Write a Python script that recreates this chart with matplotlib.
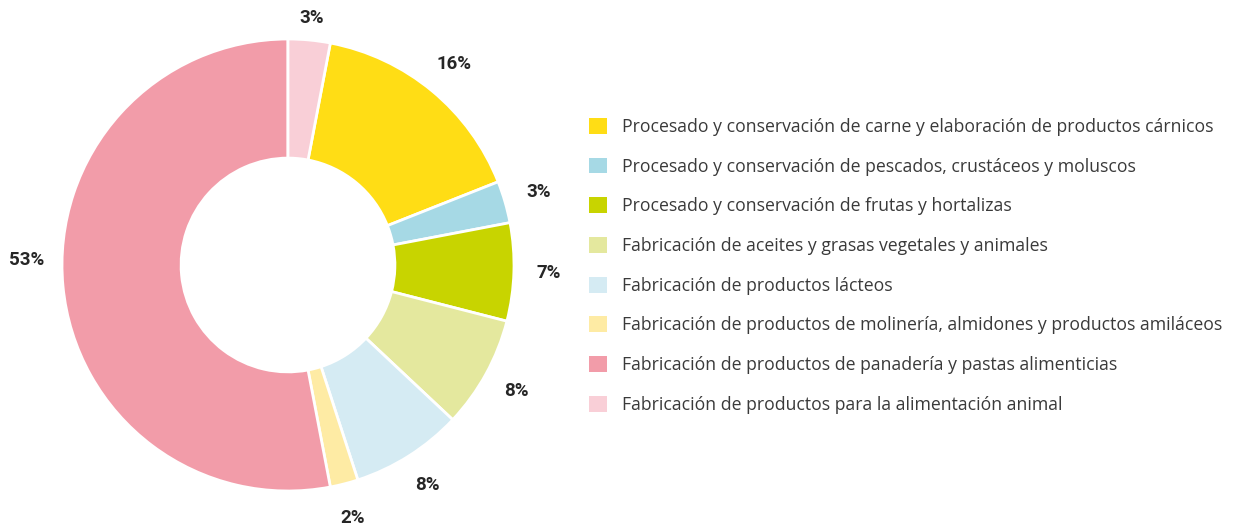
import matplotlib.pyplot as plt
from matplotlib.patches import Patch
import numpy as np

plt.rcParams['font.family'] = ['Open Sans', 'DejaVu Sans']

categories = [
    'Procesado y conservación de carne y elaboración de productos cárnicos',
    'Procesado y conservación de pescados, crustáceos y moluscos',
    'Procesado y conservación de frutas y hortalizas',
    'Fabricación de aceites y grasas vegetales y animales',
    'Fabricación de productos lácteos',
    'Fabricación de productos de molinería, almidones y productos amiláceos',
    'Fabricación de productos de panadería y pastas alimenticias',
    'Fabricación de productos para la alimentación animal',
]
values = [16, 3, 7, 8, 8, 2, 53, 3]
colors = ['#FFDD15', '#A6D9E5', '#C8D400', '#E4E89E',
          '#D5EBF3', '#FEEBA4', '#F29CA9', '#F9CFD7']

# small placement tweaks for the percentage labels (degrees, radius)
label_angle_shift = {6: 6.5}
label_radius = {7: 1.10}

fig = plt.figure(figsize=(12.33, 5.32), dpi=100)
# donut centre ~ (288, 265) px, radius ~226 px
ax = fig.add_axes([(288 - 226) / 1233, (532 - 265 - 226) / 532, 452 / 1233, 452 / 532])

tot = sum(values)
start = 90 - 360 * values[-1] / tot
wedges, _ = ax.pie(values, colors=colors, startangle=start, counterclock=False,
                   radius=1, wedgeprops=dict(width=0.527, edgecolor='white', linewidth=2))

ang = start
for k, v in enumerate(values):
    mid = ang - 360 * v / tot / 2 - label_angle_shift.get(k, 0)
    ang -= 360 * v / tot
    r = label_radius.get(k, 1.155)
    t = np.deg2rad(mid)
    ax.text(r * np.cos(t), r * np.sin(t), f'{v}%', ha='center', va='center',
            fontsize=13.5, fontweight='bold', color='#262626',
            family=['Roboto', 'DejaVu Sans'])

ax.set_xlim(-1, 1)
ax.set_ylim(-1, 1)
ax.set_aspect('equal')
ax.axis('off')

handles = [Patch(facecolor=c, edgecolor='none') for c in colors]
fig.legend(handles, categories, loc='upper left', bbox_to_anchor=(573 / 1233, 1 - 102 / 532),
           frameon=False, fontsize=12.7, handlelength=1.0, handleheight=1.0,
           handletextpad=0.85, labelspacing=1.23, labelcolor='#3a3a3a')

fig.savefig('out.png', dpi=100)
